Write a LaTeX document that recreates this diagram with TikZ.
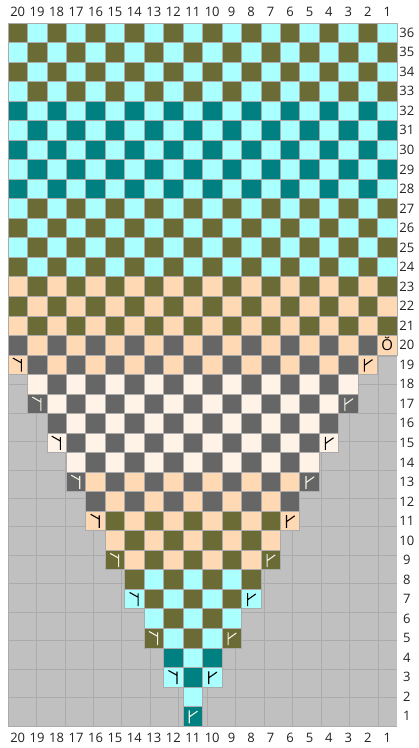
\documentclass[tikz,border=0pt]{standalone}
\usepackage{fontspec}
\setmainfont{Open Sans}
\definecolor{olivec}{HTML}{6B6B35}
\definecolor{cyanc}{HTML}{AAFFFF}
\definecolor{tealc}{HTML}{008080}
\definecolor{peachc}{HTML}{FFD9B3}
\definecolor{grayc}{HTML}{666666}
\definecolor{creamc}{HTML}{FFF3E8}
\definecolor{bgc}{HTML}{C0C0C0}
\definecolor{linec}{HTML}{ABABAB}
\definecolor{symw}{HTML}{F2F2E6}
\definecolor{textc}{HTML}{222222}
\newcommand\symLeft[3]{%
  \begin{scope}[shift={(#1,#2)}]
    \draw[symline,#3] (0.69,0.14) -- (0.69,0.79) (0.68,0.6) -- (0.25,0.84);
  \end{scope}}
\newcommand\symRight[3]{%
  \begin{scope}[shift={(#1,#2)}]
    \draw[symline,#3] (0.32,0.14) -- (0.32,0.8) (0.33,0.47) -- (0.74,0.76);
  \end{scope}}
\begin{document}
\begin{tikzpicture}[x=19.45pt,y=19.53pt,
  lab/.style={font=\fontsize{13}{14}\selectfont, text=textc, inner sep=0pt},
  cellbox/.style={draw=linec, line width=0.7pt},
  symline/.style={line width=1.1pt, line cap=butt}]
\useasboundingbox (-8pt,-22pt) rectangle (411pt,726pt);
% background grid
\fill[bgc] (0,0) rectangle (20,36);
\draw[linec, line width=0.7pt] (0,0) grid (20,36);
% coloured cells
\foreach \a/\b/\dk/\lt in {1/4/tealc/cyanc, 5/8/olivec/cyanc, 9/11/olivec/peachc,
   12/13/grayc/peachc, 14/18/grayc/creamc, 19/20/grayc/peachc, 21/23/olivec/peachc,
   24/27/olivec/cyanc, 28/32/tealc/cyanc, 33/36/olivec/cyanc}{
  \foreach \r in {\a,...,\b}{
    \ifnum\r>19
      \def\cmin{1}\def\cmax{20}%
    \else
      \pgfmathtruncatemacro\cmax{floor((\r+21)/2)}%
      \pgfmathtruncatemacro\cmin{floor((24-\r)/2)}%
    \fi
    \foreach \c in {\cmin,...,\cmax}{
      \pgfmathtruncatemacro\pty{mod(\r+\c,2)}%
      \ifnum\pty=0 \edef\cc{\dk}\else\edef\cc{\lt}\fi
      \filldraw[cellbox, fill=\cc] (20-\c,\r-1) rectangle (21-\c,\r);
    }
  }
}
% twist symbols
\foreach \r in {3,5,...,19}{
  \pgfmathtruncatemacro\cl{(\r+21)/2}%
  \pgfmathtruncatemacro\cr{(23-\r)/2}%
  \pgfmathtruncatemacro\pl{mod(\r+\cl,2)}%
  \pgfmathtruncatemacro\pr{mod(\r+\cr,2)}%
  \ifnum\pl=0 \def\sl{symw}\else\def\sl{black}\fi
  \ifnum\pr=0 \def\sr{symw}\else\def\sr{black}\fi
  \symLeft{20-\cl}{\r-1}{\sl}
  \symRight{20-\cr}{\r-1}{\sr}
}
\symRight{9}{0}{symw}
\node[font=\fontsize{15}{15}\selectfont, inner sep=0pt, text=black] (breve) at (19.5,19.55) {Ŏ};
% labels
\foreach \c in {1,...,20}{
  \node[lab] (top\c) at (20.5-\c,36.56) {\c};
  \node[lab] (bot\c) at (20.5-\c,-0.6) {\c};
}
\foreach \r in {1,...,36}{
  \node[lab] (row\r) at (20.51,\r-0.5) {\r};
}
\end{tikzpicture}
\end{document}
